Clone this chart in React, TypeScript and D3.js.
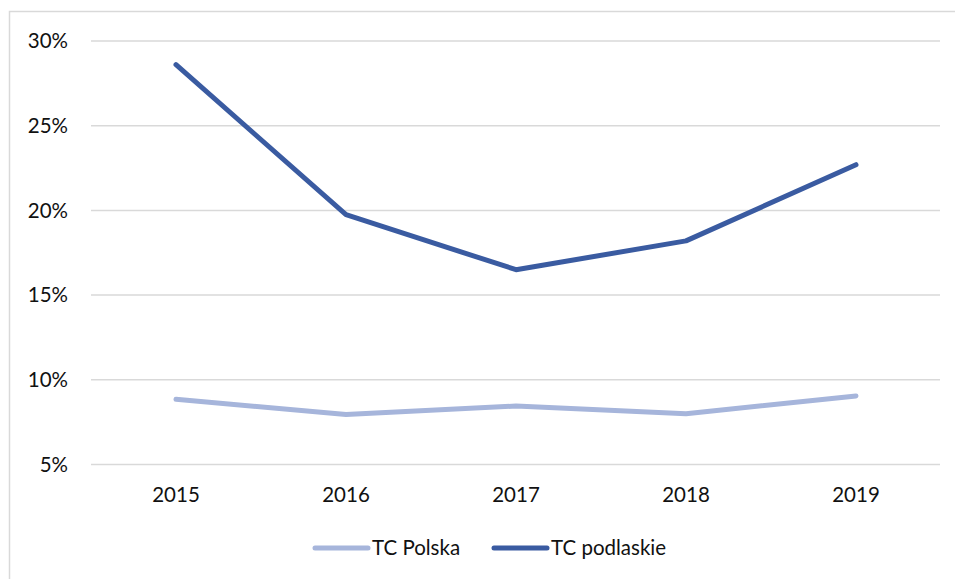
import * as d3 from "d3";
import { useEffect } from "react";

const years = ["2015", "2016", "2017", "2018", "2019"];
const polska = [8.85, 7.95, 8.45, 8.0, 9.05];
const podlaskie = [28.6, 19.75, 16.5, 18.2, 22.7];
const yTicks = [5, 10, 15, 20, 25, 30];

const series = [
  { name: "TC Polska", values: polska, color: "#a6b5db" },
  { name: "TC podlaskie", values: podlaskie, color: "#3a5ba1" },
];

const width = 955;
const height = 579;
const font = "Lato, 'Open Sans', sans-serif";
const fs = 20.5;

export default function App() {
  useEffect(() => {
    document.body.style.margin = "0";
  }, []);

  const x = d3.scalePoint<string>().domain(years).range([176, 856]);
  const y = d3.scaleLinear().domain([5, 30]).range([464.5, 41]);

  const line = d3
    .line<number>()
    .x((_, i) => x(years[i]) as number)
    .y((d) => y(d));

  return (
    <svg width={width} height={height} style={{ display: "block" }}>
      <rect x={0} y={0} width={width} height={height} fill="#fff" />
      <rect
        x={9.5}
        y={11.5}
        width={width + 20}
        height={height + 20}
        fill="none"
        stroke="#d9d9d9"
        strokeWidth={1.5}
      />
      {/* gridlines */}
      {yTicks.map((t) => (
        <g key={t}>
          <line
            x1={91}
            x2={940}
            y1={y(t)}
            y2={y(t)}
            stroke="#d9d9d9"
            strokeWidth={1.5}
          />
          <text
            x={68}
            y={y(t)}
            dy="0.35em"
            textAnchor="end"
            fontFamily={font}
            fontSize={fs}
            fill="#111"
          >
            {t}%
          </text>
        </g>
      ))}
      {years.map((yr) => (
        <text
          key={yr}
          x={x(yr)}
          y={502}
          textAnchor="middle"
          fontFamily={font}
          fontSize={fs}
          fill="#111"
        >
          {yr}
        </text>
      ))}
      {series.map((s) => (
        <path
          key={s.name}
          d={line(s.values) || ""}
          fill="none"
          stroke={s.color}
          strokeWidth={5}
          strokeLinecap="round"
          strokeLinejoin="round"
        />
      ))}
      {/* legend */}
      {series.map((s, i) => {
        const lx = 315 + i * 179;
        return (
          <g key={s.name}>
            <line
              x1={lx}
              x2={lx + 53}
              y1={548}
              y2={548}
              stroke={s.color}
              strokeWidth={5}
              strokeLinecap="round"
            />
            <text
              x={lx + 57}
              y={548}
              dy="0.35em"
              fontFamily={font}
              fontSize={fs}
              fill="#111"
            >
              {s.name}
            </text>
          </g>
        );
      })}
    </svg>
  );
}
